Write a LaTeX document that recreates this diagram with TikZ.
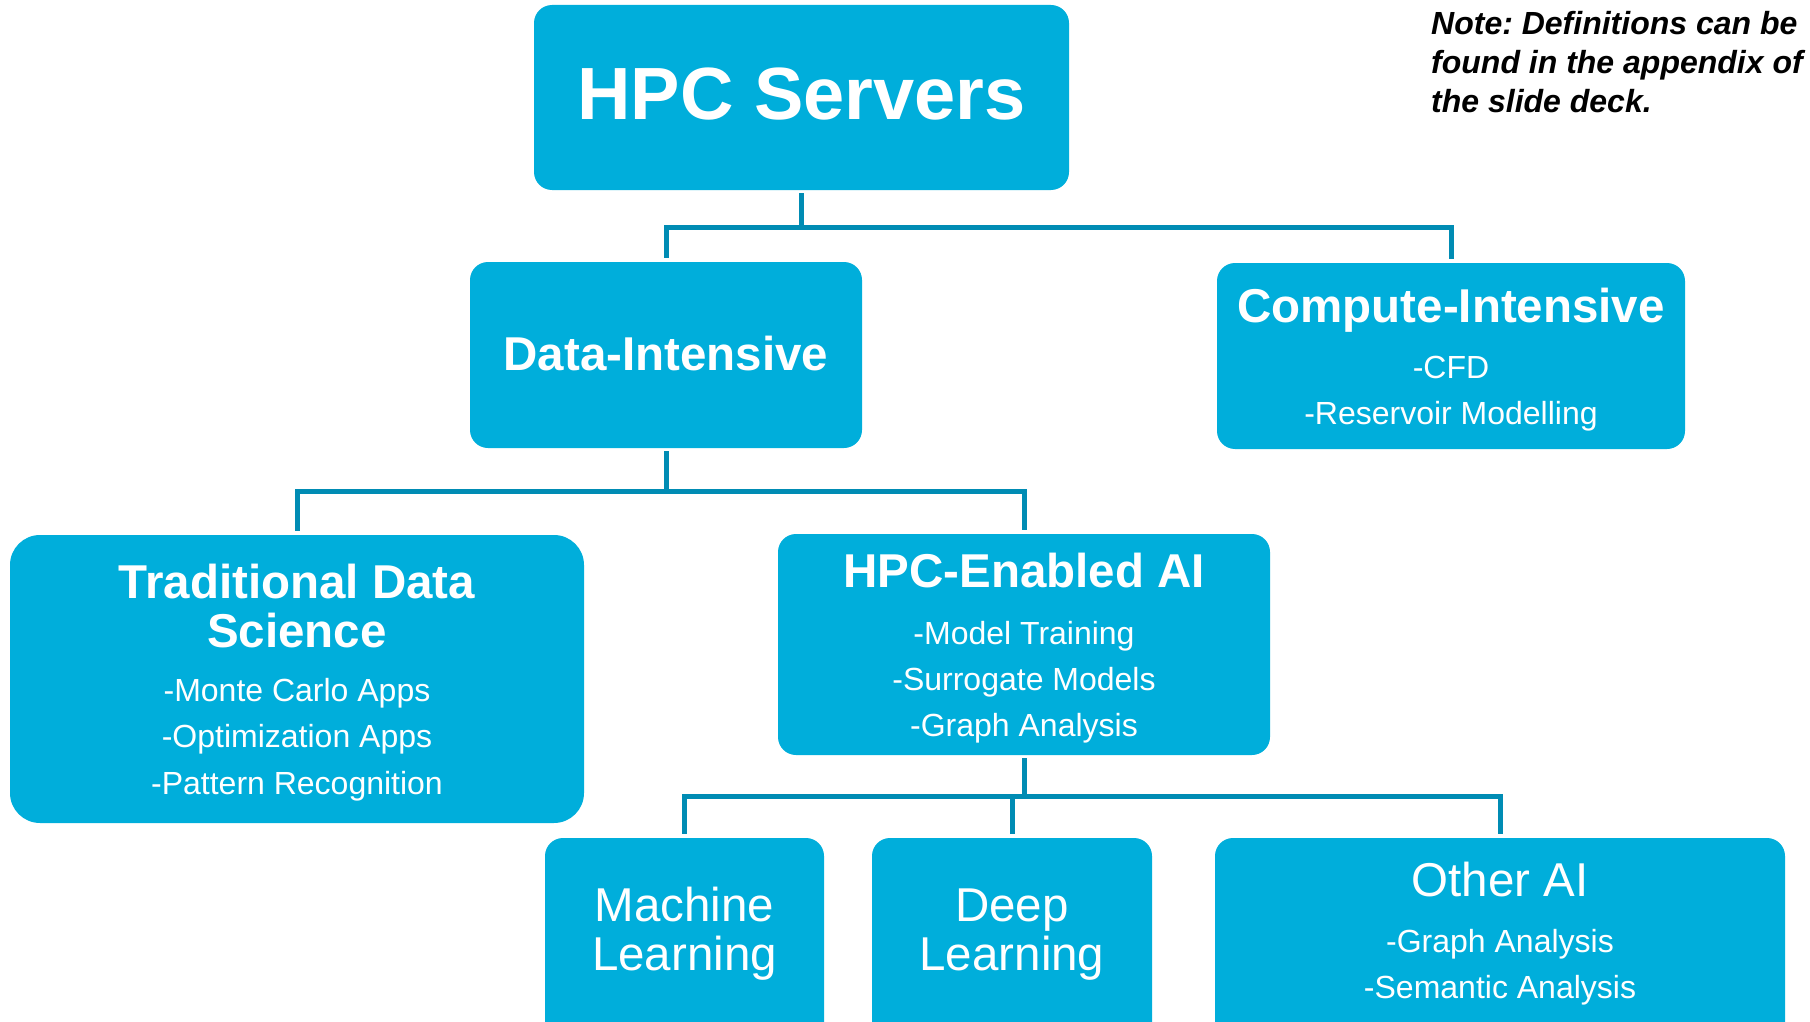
\documentclass[tikz,border=0pt]{standalone}
\usepackage{fontspec}
\setmainfont{Liberation Sans}
\definecolor{boxblue}{RGB}{0,174,219}
\definecolor{connblue}{RGB}{0,140,180}
\frenchspacing
\begin{document}
\begin{tikzpicture}[x=1pt,y=-1pt,
 box/.style={fill=boxblue, rounded corners=18pt, inner sep=0pt, draw=none},
 conn/.style={draw=connblue, line width=5pt, shorten <=3pt, shorten >=4pt},
 title/.style={text=white, font=\fontsize{47.5}{49}\selectfont\bfseries, anchor=base, inner sep=0pt},
 item/.style={text=white, font=\fontsize{32}{38}\selectfont, anchor=base, inner sep=0pt},
 big/.style={text=white, font=\fontsize{47.5}{50}\selectfont, anchor=base, inner sep=0pt},
 note/.style={text=black, font=\fontsize{32}{39}\selectfont\bfseries\itshape, anchor=base west, inner sep=0pt}]
\useasboundingbox (0,0) rectangle (1810,1022);
\clip (0,0) rectangle (1810,1022);
% boxes
\node[box, minimum width=535pt, minimum height=185pt] (hpc) at (801.5,97.5) {};
\node[box, minimum width=392pt, minimum height=186pt] (di) at (666,355) {};
\node[box, minimum width=468pt, minimum height=186pt] (ci) at (1451,356) {};
\node[box, rounded corners=30pt, minimum width=574pt, minimum height=288pt] (tds) at (297,679) {};
\node[box, minimum width=492pt, minimum height=221pt] (ai) at (1024,644.5) {};
\node[box, minimum width=279pt, minimum height=210pt] (ml) at (684.5,943) {};
\node[box, minimum width=280pt, minimum height=210pt] (dl) at (1012,943) {};
\node[box, minimum width=570pt, minimum height=210pt] (oai) at (1500,943) {};
% connectors
\draw[conn] (hpc.south) -- ++(0,37) -| (di.north);
\draw[conn] (hpc.south) -- ++(0,37) -| (ci.north);
\draw[conn] (di.south) -- ++(0,43) -| (tds.north);
\draw[conn] (di.south) -- ++(0,43) -| (ai.north);
\draw[conn] (ai.south) -- ++(0,41) -| (ml.north);
\draw[conn] (ai.south) -- ++(0,41) -| (dl.north);
\draw[conn] (ai.south) -- ++(0,41) -| (oai.north);
% texts
\node[title, font=\fontsize{74}{80}\selectfont\bfseries] (thpc) at (801.5,120) {HPC Servers};
\node[title] (tdi) at (666,370) {Data-Intensive};
\node[title] (tci) at (1451,322) {Compute-Intensive};
\node[item] (ci1) at (1451,378.5) {-CFD};
\node[item] (ci2) at (1451,424.5) {-Reservoir Modelling};
\node[title] (ttds1) at (297,598) {Traditional Data};
\node[title] (ttds2) at (297,647) {Science};
\node[item] (tds1) at (297,701.5) {-Monte Carlo Apps};
\node[item] (tds2) at (297,747.5) {-Optimization Apps};
\node[item] (tds3) at (297,794.5) {-Pattern Recognition};
\node[title] (tai) at (1024,587) {HPC-Enabled AI};
\node[item] (ai1) at (1024,644.5) {-Model Training};
\node[item] (ai2) at (1024,690.5) {-Surrogate Models};
\node[item] (ai3) at (1024,736.5) {-Graph Analysis};
\node[big] (tml1) at (684.5,921) {Machine};
\node[big] (tml2) at (684.5,970) {Learning};
\node[big] (tdl1) at (1012,921) {Deep};
\node[big] (tdl2) at (1012,970) {Learning};
\node[big] (toai) at (1500,896) {Other AI};
\node[item] (oai1) at (1500,952.5) {-Graph Analysis};
\node[item] (oai2) at (1500,998.5) {-Semantic Analysis};
\node[note] (n1) at (1431,35) {Note: Definitions can be};
\node[note] (n2) at (1431,74) {found in the appendix of};
\node[note] (n3) at (1431,113) {the slide deck.};
\end{tikzpicture}
\end{document}
